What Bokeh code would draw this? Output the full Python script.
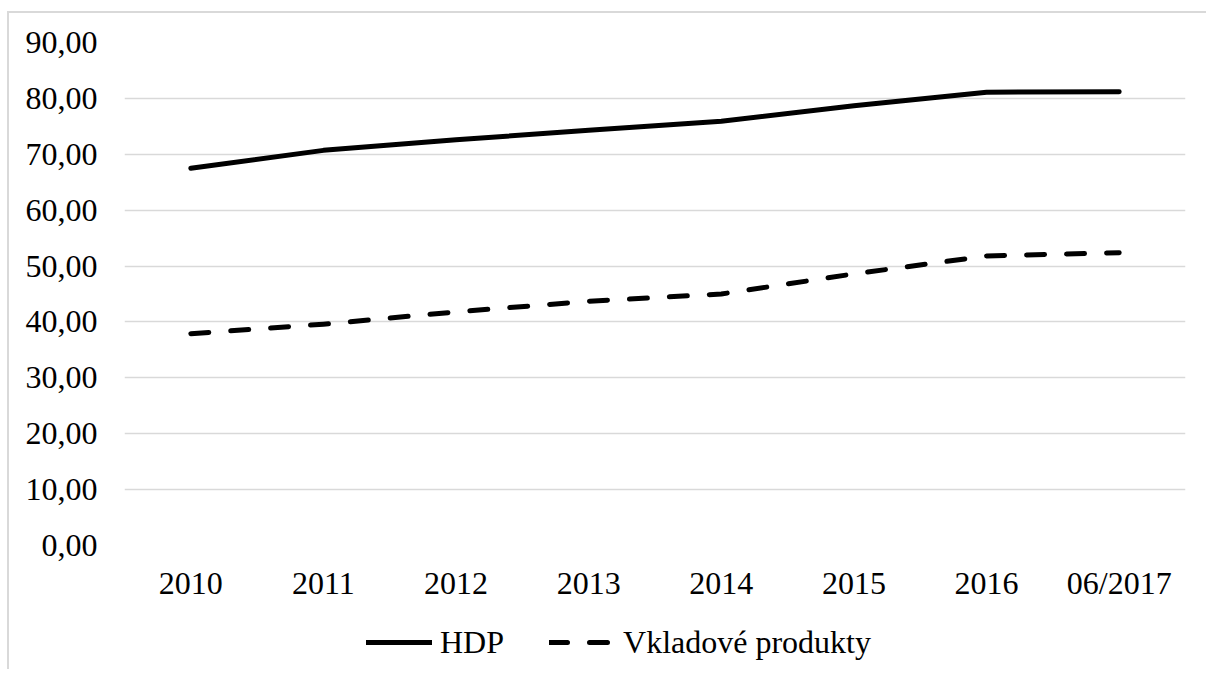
from bokeh.plotting import figure
from bokeh.layouts import column
from bokeh.models import FactorRange, Range1d, FixedTicker, Legend, LegendItem
from bokeh.embed import file_html
from bokeh.resources import INLINE

categories = ["2010", "2011", "2012", "2013", "2014", "2015", "2016", "06/2017"]
hdp = [67.5, 70.7, 72.6, 74.3, 75.9, 78.7, 81.1, 81.2]
vklad = [37.9, 39.6, 41.8, 43.7, 45.0, 48.6, 51.8, 52.4]
y_ticks = [0, 10, 20, 30, 40, 50, 60, 70, 80, 90]
y_tick_labels = ["0,00", "10,00", "20,00", "30,00", "40,00", "50,00", "60,00", "70,00", "80,00", "90,00"]
series_names = ["HDP", "Vkladové produkty"]

FONT = "Liberation Serif"
FS = "32px"
W = 1210

p = figure(width=W, height=592,
           x_range=FactorRange(*categories, range_padding=0),
           y_range=Range1d(0, 90),
           output_backend="svg", toolbar_location=None,
           min_border_left=115, min_border_right=34,
           min_border_top=29, min_border_bottom=60)
p.outline_line_color = None
p.background_fill_color = "white"
p.border_fill_color = "white"

style_line = dict(line_color="black", line_width=5, line_cap="round", line_join="round")
dash = "18 22"
p.line(categories, hdp, **style_line)
p.line(categories, vklad, line_dash=dash, **style_line)

p.xgrid.grid_line_color = None
p.ygrid.grid_line_color = "#d9d9d9"
p.ygrid.grid_line_width = 1.5

p.yaxis.ticker = FixedTicker(ticks=y_ticks)
p.yaxis.major_label_overrides = {t: l for t, l in zip(y_ticks, y_tick_labels)}
for ax in (p.xaxis, p.yaxis):
    ax.axis_line_color = None
    ax.major_tick_line_color = None
    ax.minor_tick_line_color = None
    ax.major_tick_out = 0
    ax.major_tick_in = 0
    ax.major_label_text_font = FONT
    ax.major_label_text_font_size = FS
    ax.major_label_text_color = "black"
p.yaxis.major_label_standoff = 27
p.xaxis.major_label_standoff = 19

# legend strip (separate figure below the chart); its lines hold no visible data
nan = float("nan")
q = figure(width=W, height=64, output_backend="svg", toolbar_location=None,
           x_axis_type=None, y_axis_type=None,
           min_border_left=0, min_border_right=0, min_border_top=0, min_border_bottom=0)
q.outline_line_color = None
q.xgrid.grid_line_color = None
q.ygrid.grid_line_color = None
q.background_fill_color = "white"
q.border_fill_color = "white"
l1 = q.line([nan, nan], [nan, nan], **style_line)
l2 = q.line([nan, nan], [nan, nan], line_dash=dash, **style_line)
legend = Legend(items=[LegendItem(label=series_names[0], renderers=[l1]),
                       LegendItem(label=series_names[1], renderers=[l2])],
                orientation="horizontal", location=(242, 7),
                glyph_width=66, glyph_height=40, label_height=40,
                label_standoff=8, spacing=45,
                padding=0, margin=0, border_line_color=None,
                background_fill_alpha=0,
                label_text_font=FONT, label_text_font_size=FS,
                label_text_color="black")
q.add_layout(legend, "center")

layout = column(p, q, spacing=0)
layout.margin = (11, 0, 0, 7)
layout.styles = {"border-width": "2px 0px 0px 2px", "border-style": "solid",
                 "border-color": "#d9d9d9"}

open("out.html", "w").write(file_html(layout, INLINE))
